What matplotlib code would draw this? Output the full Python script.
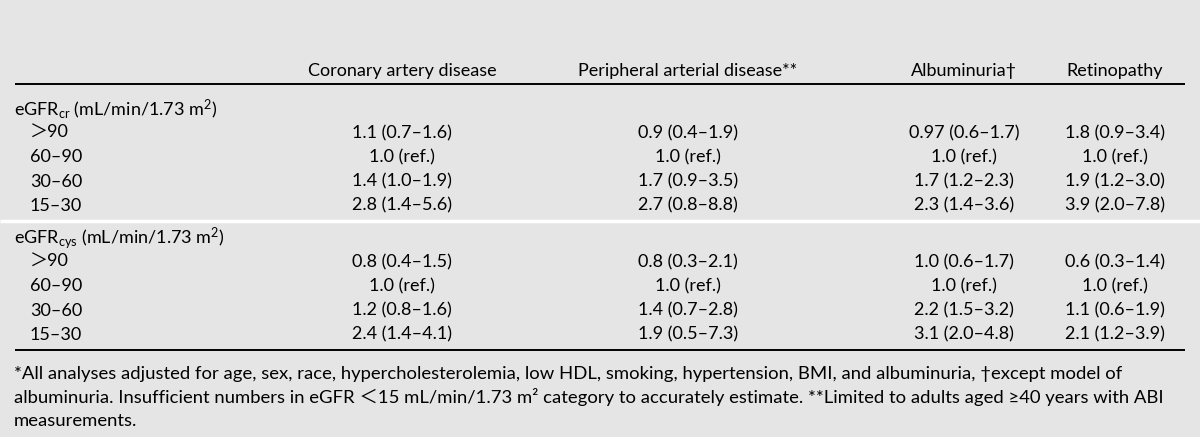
import matplotlib
matplotlib.use("Agg")
import matplotlib.pyplot as plt

plt.rcParams["font.family"] = ["Lato", "Noto Sans CJK JP", "DejaVu Sans"]
plt.rcParams["mathtext.fontset"] = "custom"
plt.rcParams["mathtext.rm"] = "Lato"
plt.rcParams["mathtext.it"] = "Lato:italic"

# table content
columns = ["Coronary artery disease", "Peripheral arterial disease**", "Albuminuria\u2020", "Retinopathy"]
sections = ["eGFR$_{\\mathrm{cr}}$ (mL/min/1.73 m$^2$)", "eGFR$_{\\mathrm{cys}}$ (mL/min/1.73 m$^2$)"]
row_labels = ["\uff1e90", "60\u201390", "30\u201360", "15\u201330"]

egfr_cr = [
    ["1.1 (0.7\u20131.6)", "0.9 (0.4\u20131.9)", "0.97 (0.6\u20131.7)", "1.8 (0.9\u20133.4)"],
    ["1.0 (ref.)", "1.0 (ref.)", "1.0 (ref.)", "1.0 (ref.)"],
    ["1.4 (1.0\u20131.9)", "1.7 (0.9\u20133.5)", "1.7 (1.2\u20132.3)", "1.9 (1.2\u20133.0)"],
    ["2.8 (1.4\u20135.6)", "2.7 (0.8\u20138.8)", "2.3 (1.4\u20133.6)", "3.9 (2.0\u20137.8)"],
]
egfr_cys = [
    ["0.8 (0.4\u20131.5)", "0.8 (0.3\u20132.1)", "1.0 (0.6\u20131.7)", "0.6 (0.3\u20131.4)"],
    ["1.0 (ref.)", "1.0 (ref.)", "1.0 (ref.)", "1.0 (ref.)"],
    ["1.2 (0.8\u20131.6)", "1.4 (0.7\u20132.8)", "2.2 (1.5\u20133.2)", "1.1 (0.6\u20131.9)"],
    ["2.4 (1.4\u20134.1)", "1.9 (0.5\u20137.3)", "3.1 (2.0\u20134.8)", "2.1 (1.2\u20133.9)"],
]

footnotes = [
    "*All analyses adjusted for age, sex, race, hypercholesterolemia, low HDL, smoking, hypertension, BMI, and albuminuria, \u2020except model of",
    "albuminuria. Insufficient numbers in eGFR \uff1c15 mL/min/1.73 m\u00b2 category to accurately estimate. **Limited to adults aged \u226540 years with ABI",
    "measurements.",
]

# layout in pixels
W, H = 1200, 437
col_x = [402, 688, 964, 1115]
fs = 13
fs_note = 13.3

fig = plt.figure(figsize=(W / 100, H / 100), dpi=100)
fig.patch.set_facecolor("#e5e5e5")
ax = fig.add_axes([0, 0, 1, 1])
ax.set_xlim(0, W)
ax.set_ylim(H, 0)
ax.axis("off")

# header
for x, c in zip(col_x, columns):
    ax.text(x, 71, c, ha="center", va="center", fontsize=fs)
ax.plot([15, 1185], [84, 84], color="black", lw=1.4, solid_capstyle="butt")

blocks = [(sections[0], egfr_cr, 109), (sections[1], egfr_cys, 238)]
for title, vals, y0 in blocks:
    ax.text(14, y0, title, ha="left", va="center", fontsize=fs)
    for i, (lab, row) in enumerate(zip(row_labels, vals)):
        y = y0 + 24.2 * (i + 1)
        ax.text(30, y, lab, ha="left", va="center", fontsize=fs)
        for x, v in zip(col_x, row):
            ax.text(x, y, v, ha="center", va="center", fontsize=fs)

# white separator between the two blocks
ax.plot([0, W], [220.5, 220.5], color="white", lw=2.5, solid_capstyle="butt")
ax.plot([15, 1185], [350, 350], color="black", lw=1.4, solid_capstyle="butt")

for i, line in enumerate(footnotes):
    ax.text(14, 374 + 23.3 * i, line, ha="left", va="center", fontsize=fs_note)

fig.savefig("out.png", dpi=100, facecolor=fig.get_facecolor())
